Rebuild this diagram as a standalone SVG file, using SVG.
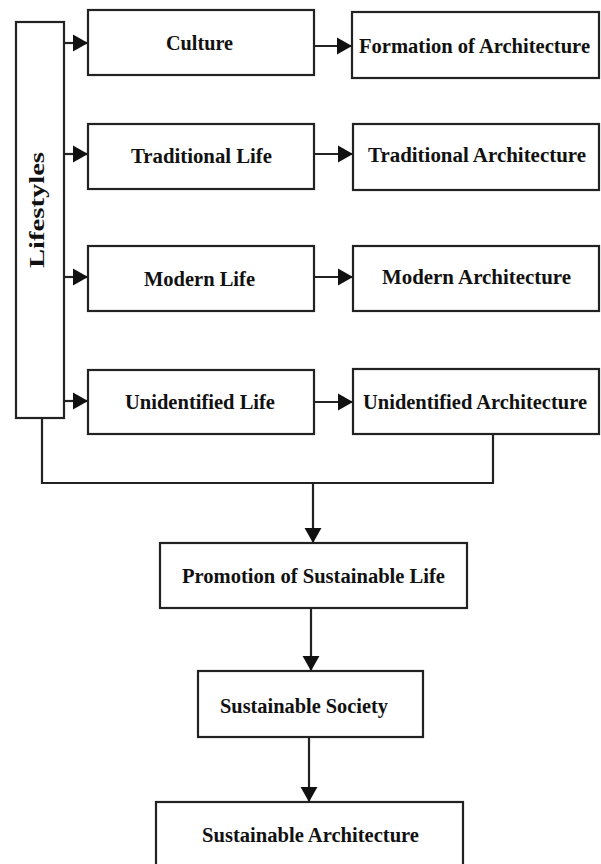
<svg xmlns="http://www.w3.org/2000/svg" width="601" height="864" viewBox="0 0 601 864">
<style>
.box{fill:#fff;stroke:#222;stroke-width:2.2}
.lbl{font-family:"Liberation Serif","Times New Roman",serif;font-weight:bold;font-size:20.5px;fill:#111}
.ln{fill:none;stroke:#222;stroke-width:2.2}
</style>
<defs>
<marker id="ah" viewBox="0 0 16 18" refX="16" refY="9" markerWidth="15" markerHeight="18" markerUnits="userSpaceOnUse" orient="auto">
<path d="M0,0 L16,9 L0,18 Z" fill="#111"/>
</marker>
</defs>
<rect width="601" height="864" fill="#fff"/>
<g id="connectors">
<path class="ln" d="M64,43 H88" marker-end="url(#ah)"/>
<path class="ln" d="M64,154 H88" marker-end="url(#ah)"/>
<path class="ln" d="M64,277 H88" marker-end="url(#ah)"/>
<path class="ln" d="M64,401 H88" marker-end="url(#ah)"/>
<path class="ln" d="M314,46 H352" marker-end="url(#ah)"/>
<path class="ln" d="M314,154 H353" marker-end="url(#ah)"/>
<path class="ln" d="M314,277 H353" marker-end="url(#ah)"/>
<path class="ln" d="M314,402 H353" marker-end="url(#ah)"/>
<path class="ln" d="M42,418 V483 H493 V434"/>
<path class="ln" d="M313,483 V543" marker-end="url(#ah)"/>
<path class="ln" d="M311,608 V671" marker-end="url(#ah)"/>
<path class="ln" d="M309,737 V802" marker-end="url(#ah)"/>
</g>
<g id="lifestyles">
<rect class="box" x="16" y="22" width="48" height="396"/>
<text class="lbl" transform="translate(44,268) rotate(-90)" textLength="116" lengthAdjust="spacingAndGlyphs" font-size="20">Lifestyles</text>
</g>
<g id="culture">
<rect class="box" x="88" y="10" width="226" height="65"/>
<text class="lbl" x="166" y="50" textLength="67" lengthAdjust="spacingAndGlyphs">Culture</text>
</g>
<g id="traditional-life">
<rect class="box" x="88" y="124" width="226" height="65"/>
<text class="lbl" x="131" y="163" textLength="141" lengthAdjust="spacingAndGlyphs">Traditional Life</text>
</g>
<g id="modern-life">
<rect class="box" x="88" y="246" width="226" height="65"/>
<text class="lbl" x="144" y="286" textLength="111" lengthAdjust="spacingAndGlyphs">Modern Life</text>
</g>
<g id="unidentified-life">
<rect class="box" x="88" y="370" width="226" height="64"/>
<text class="lbl" x="125" y="409" textLength="150" lengthAdjust="spacingAndGlyphs">Unidentified Life</text>
</g>
<g id="formation">
<rect class="box" x="352" y="12" width="247" height="66"/>
<text class="lbl" x="359" y="53" textLength="231" lengthAdjust="spacingAndGlyphs">Formation of Architecture</text>
</g>
<g id="traditional-arch">
<rect class="box" x="353" y="124" width="246" height="66"/>
<text class="lbl" x="368" y="162" textLength="218" lengthAdjust="spacingAndGlyphs">Traditional Architecture</text>
</g>
<g id="modern-arch">
<rect class="box" x="353" y="246" width="246" height="65"/>
<text class="lbl" x="382" y="284" textLength="189" lengthAdjust="spacingAndGlyphs">Modern Architecture</text>
</g>
<g id="unidentified-arch">
<rect class="box" x="353" y="369" width="246" height="65"/>
<text class="lbl" x="363" y="409" textLength="224" lengthAdjust="spacingAndGlyphs">Unidentified Architecture</text>
</g>
<g id="promotion">
<rect class="box" x="160" y="543" width="307" height="65"/>
<text class="lbl" x="182" y="583" textLength="263" lengthAdjust="spacingAndGlyphs">Promotion of Sustainable Life</text>
</g>
<g id="society">
<rect class="box" x="198" y="671" width="225" height="66"/>
<text class="lbl" x="220" y="713" textLength="168" lengthAdjust="spacingAndGlyphs">Sustainable Society</text>
</g>
<g id="sustainable-arch">
<rect class="box" x="156" y="802" width="307" height="70"/>
<text class="lbl" x="202" y="842" textLength="217" lengthAdjust="spacingAndGlyphs">Sustainable Architecture</text>
</g>
</svg>
